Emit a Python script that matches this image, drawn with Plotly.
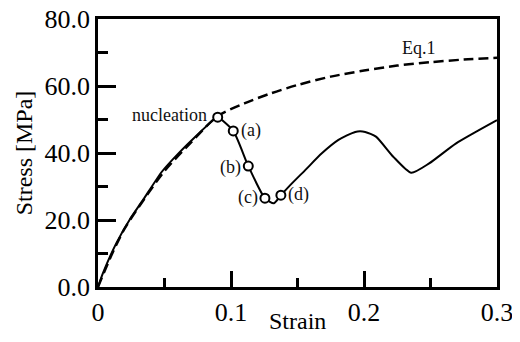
import plotly.graph_objects as go

# Experimental (solid) curve
strain_exp = [0, 0.0038, 0.0138, 0.0238, 0.0339, 0.048, 0.0605, 0.073, 0.088, 0.09,
              0.1017, 0.113, 0.1255, 0.1323, 0.1375, 0.1433, 0.1558, 0.1683, 0.1808, 0.1934,
              0.2009, 0.209, 0.222, 0.2355, 0.249, 0.269, 0.3]
stress_exp = [0, 4.2, 13.1, 20.1, 26.0, 34.4, 39.9, 44.8, 50.3, 50.7,
              46.6, 36.1, 26.5, 25.0, 27.4, 29.9, 34.9, 39.9, 43.9, 46.3,
              46.3, 44.9, 38.9, 34.1, 36.9, 42.8, 49.8]

# Marked states
mark_strain = [0.09, 0.1017, 0.113, 0.1255, 0.1375]
mark_stress = [50.7, 46.6, 36.1, 26.5, 27.4]
mark_labels = ["nucleation", "(a)", "(b)", "(c)", "(d)"]

# Eq.1 (dashed) curve
strain_eq = [0, 0.01, 0.02, 0.035, 0.05, 0.07, 0.09, 0.11, 0.13, 0.15, 0.175,
             0.2, 0.225, 0.25, 0.275, 0.3]
stress_eq = [0, 9.4, 17.4, 26.4, 34.6, 43.2, 51.0, 54.8, 57.8, 60.3, 62.8,
             64.6, 66.1, 67.1, 67.9, 68.4]

x_ticks = [0, 0.1, 0.2, 0.3]
x_ticktext = ["0", "0.1", "0.2", "0.3"]
y_ticks = [0, 20, 40, 60, 80]
y_ticktext = ["0.0", "20.0", "40.0", "60.0", "80.0"]

FONT = "Liberation Serif"

fig = go.Figure()
fig.add_trace(go.Scatter(x=strain_eq, y=stress_eq, mode="lines",
                         line=dict(color="black", width=2.5, dash="10px,5px", shape="spline", smoothing=0.8),
                         hoverinfo="skip", showlegend=False))
fig.add_trace(go.Scatter(x=strain_exp, y=stress_exp, mode="lines",
                         line=dict(color="black", width=2, shape="spline", smoothing=0.6),
                         showlegend=False))
fig.add_trace(go.Scatter(x=mark_strain, y=mark_stress, mode="markers",
                         marker=dict(size=9, color="white", line=dict(color="black", width=2)),
                         showlegend=False))

offsets = {"nucleation": (-9, 2, "right"), "(a)": (6, 0, "left"), "(b)": (-5, -1, "right"),
           "(c)": (-5, 1, "right"), "(d)": (5, 1, "left")}
for xs, ys, lab in zip(mark_strain, mark_stress, mark_labels):
    dx, dy, anc = offsets[lab]
    fig.add_annotation(x=xs, y=ys, text=lab, showarrow=False, xanchor=anc, yanchor="middle",
                       xshift=dx, yshift=dy, font=dict(family=FONT, size=18, color="#111"))

fig.add_annotation(x=0.241, y=71.2, text="Eq.1", showarrow=False, xanchor="center",
                   yanchor="middle", font=dict(family=FONT, size=18, color="#111"))

# x-axis title placed as paper annotation for exact vertical position
fig.add_annotation(x=0.5, y=-0.128, xref="paper", yref="paper", text="Strain", showarrow=False,
                   xanchor="center", yanchor="middle", font=dict(family=FONT, size=24, color="black"))

fig.update_xaxes(range=[0, 0.3], tickvals=x_ticks, ticktext=x_ticktext, automargin=False,
                 ticklabeloverflow="allow",
                 ticks="inside", ticklen=16, tickwidth=2.5, tickcolor="black",
                 minor=dict(tickvals=[0.05, 0.15, 0.25], ticks="inside", ticklen=9, tickwidth=2.5, tickcolor="black"),
                 showline=True, linewidth=2.5, linecolor="black", mirror=True,
                 showgrid=False, zeroline=False,
                 tickfont=dict(family=FONT, size=26, color="black"))
fig.update_yaxes(range=[0, 80], tickvals=y_ticks, ticktext=y_ticktext, automargin=False,
                 ticklabeloverflow="allow",
                 ticks="inside", ticklen=18, tickwidth=2.5, tickcolor="black",
                 minor=dict(tickvals=[10, 30, 50, 70], ticks="inside", ticklen=10, tickwidth=2.5, tickcolor="black"),
                 showline=True, linewidth=2.5, linecolor="black", mirror=True,
                 showgrid=False, zeroline=False,
                 tickfont=dict(family=FONT, size=26, color="black"),
                 title=dict(text="Stress [MPa]", font=dict(family=FONT, size=24, color="black"), standoff=6))

# page has an 8px body margin: figure is shifted, so compensate in size/margins
fig.update_layout(width=512, height=334, margin=dict(l=90, r=23, t=10.5, b=54.5),
                  paper_bgcolor="white", plot_bgcolor="white")

fig.write_html("out.html")
